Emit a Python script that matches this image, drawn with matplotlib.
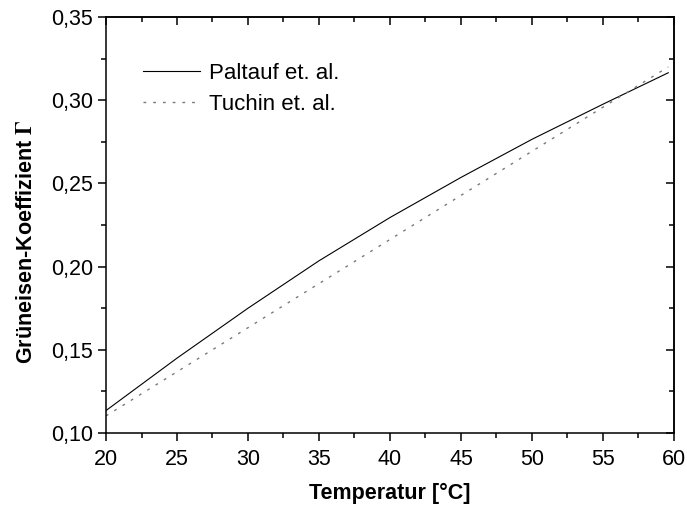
import matplotlib
matplotlib.use("Agg")
import matplotlib.pyplot as plt
from matplotlib.ticker import MultipleLocator, FuncFormatter

plt.rcParams['font.family'] = ['Liberation Sans', 'DejaVu Sans']
plt.rcParams['mathtext.fontset'] = 'stix'

# Data
temp = [20, 25, 30, 35, 40, 45, 50, 55, 59.6]
paltauf = [0.1135, 0.1450, 0.1750, 0.2035, 0.2295, 0.2536, 0.2765, 0.2976, 0.3165]
tuchin = [0.1103, 0.1368, 0.1633, 0.1898, 0.2163, 0.2428, 0.2693, 0.2958, 0.3200]
xticks = [20, 25, 30, 35, 40, 45, 50, 55, 60]
yticks = [0.10, 0.15, 0.20, 0.25, 0.30, 0.35]

fig = plt.figure(figsize=(6.87, 5.08), dpi=100)
ax = fig.add_axes([0.1543, 0.1476, 0.981 - 0.1543, 0.9665 - 0.1476])

ax.plot(temp, paltauf, color='black', lw=0.8, label='Paltauf et. al.')
ax.plot(temp, tuchin, color='#7a7a7a', lw=1.0, linestyle=(0, (2, 5)), label='Tuchin et. al.')

ax.set_xlim(20, 60)
ax.set_ylim(0.10, 0.35)
ax.set_xticks(xticks)
ax.set_yticks(yticks)
ax.xaxis.set_minor_locator(MultipleLocator(2.5))
ax.yaxis.set_minor_locator(MultipleLocator(0.025))
ax.yaxis.set_major_formatter(FuncFormatter(lambda v, p: f"{v:.2f}".replace('.', ',')))
ax.xaxis.set_major_formatter(FuncFormatter(lambda v, p: f"{v:.0f}"))

for s in ax.spines.values():
    s.set_linewidth(1.1)
ax.tick_params(which='major', direction='out', length=5.8, width=1.1, labelsize=15.5, pad=3.5)
ax.tick_params(axis='x', which='major', pad=5.5)
ax.tick_params(which='minor', direction='out', length=3.6, width=1.1)

secx = ax.secondary_xaxis('top')
secx.set_xticks(xticks)
secx.xaxis.set_minor_locator(MultipleLocator(2.5))
secx.tick_params(which='major', direction='in', length=5.8, width=1.1, labeltop=False)
secx.tick_params(which='minor', direction='in', length=3.6, width=1.1)
secx.spines['top'].set_linewidth(1.1)

secy = ax.secondary_yaxis('right')
secy.set_yticks(yticks)
secy.yaxis.set_minor_locator(MultipleLocator(0.025))
secy.tick_params(which='major', direction='in', length=5.8, width=1.1, labelright=False)
secy.tick_params(which='minor', direction='in', length=3.6, width=1.1)
secy.spines['right'].set_linewidth(1.1)

ax.set_xlabel('Temperatur [°C]', fontsize=15.5, fontweight='bold')
ax.xaxis.set_label_coords(0.5, -0.12)
ax.set_ylabel(r'Grüneisen-Koeffizient $\mathbf{\Gamma}$', fontsize=15.5, fontweight='bold')
ax.yaxis.set_label_coords(-0.122, 0.46)

leg = ax.legend(loc='upper left', bbox_to_anchor=(0.065, 0.89), frameon=False, fontsize=16,
                handlelength=2.57, handletextpad=0.4, labelspacing=0.45,
                borderpad=0, borderaxespad=0)

fig.savefig('out.png', dpi=100)
